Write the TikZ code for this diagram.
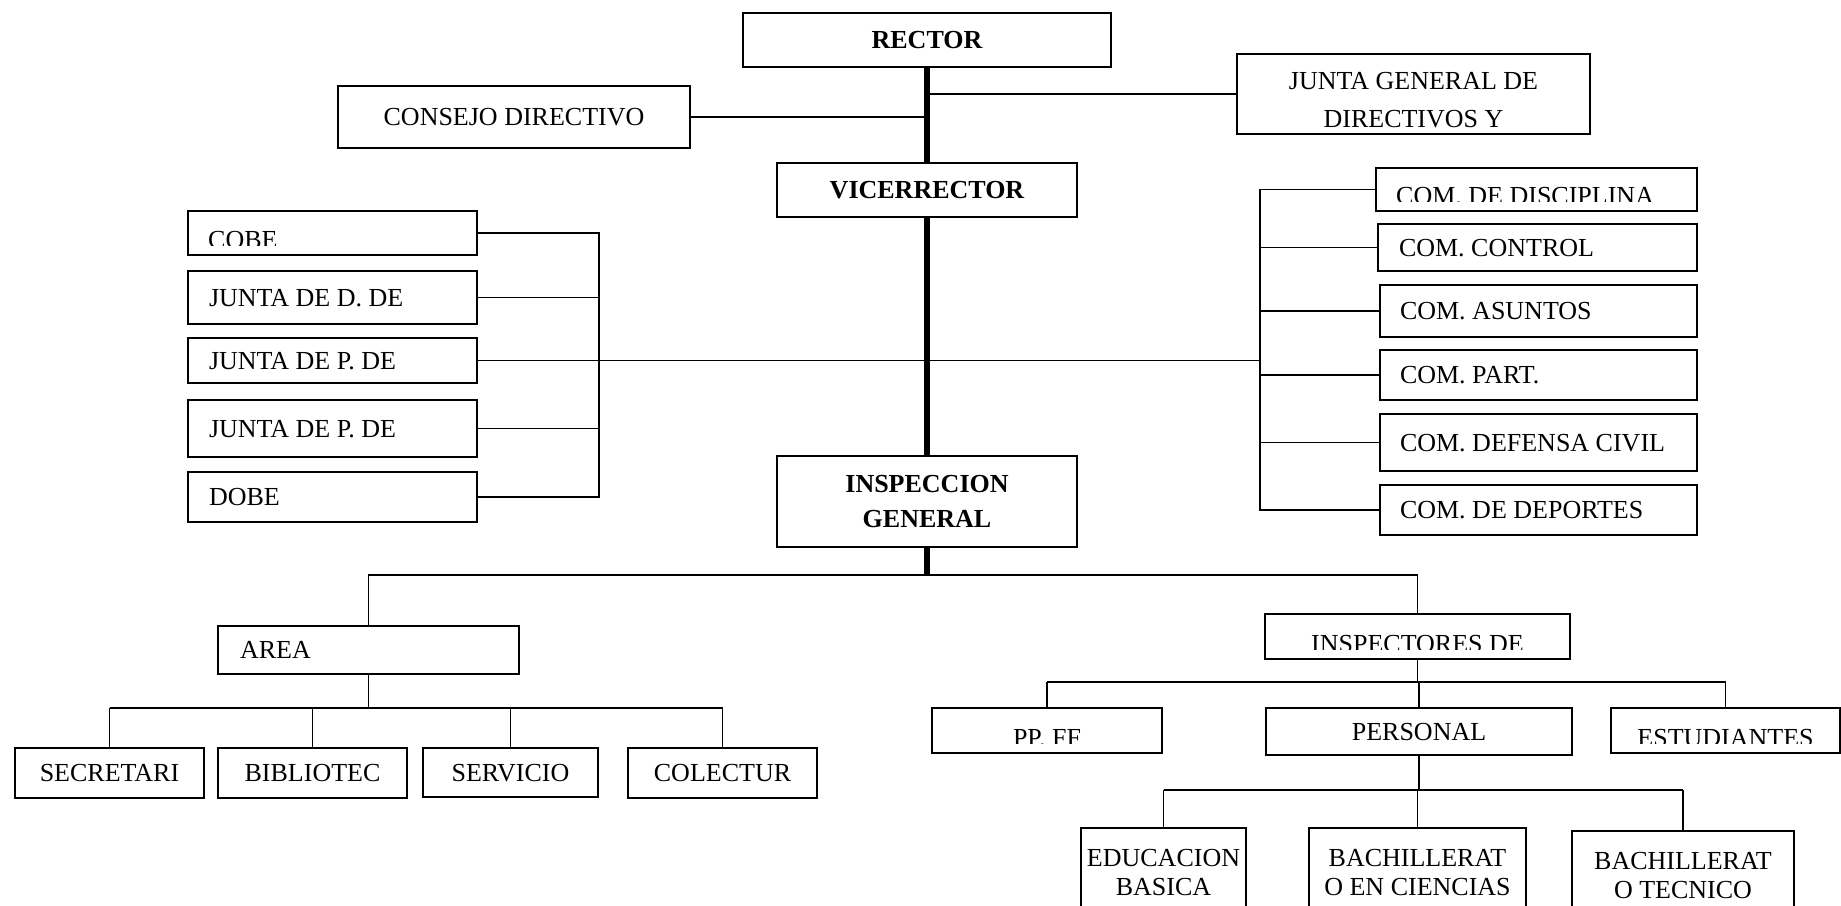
\documentclass[tikz,border=0pt]{standalone}
\usepackage{fontspec}
\setmainfont{Liberation Serif}
\usepackage{tikz}
\tikzset{
  box/.style={draw, line width=2pt, inner sep=0pt, text height=17.5pt, text depth=0pt},
  bold/.style={font=\fontsize{26}{35}\selectfont\bfseries},
  lbox/.style={align=flush left, text width=#1},
  two/.style={align=center, text height=, text depth=},
  tall/.style={two, font=\fontsize{26}{29}\selectfont},
  conn/.style={line width=1.9pt},
  spine/.style={line width=6.5pt}
}
\newcommand{\orgbox}[7][]{%
  \pgfmathsetmacro\boxw{#5-#3}\pgfmathsetmacro\boxh{#6-#4}%
  \node[box, minimum width=\boxw pt, minimum height=\boxh pt, #1] (#2) at ({(#3+#5)/2},{(#4+#6)/2}) {#7};}
\newcommand{\cuttext}[5]{%
  \begin{scope}
    \clip (#1.north west) rectangle ([yshift=11pt]#1.south east);
    \node[anchor=#2, inner sep=0pt] at ([xshift=#4, yshift=8pt]#1.#3) {#5};
  \end{scope}}

\begin{document}
\begin{tikzpicture}[x=1pt, y=-1pt, font=\fontsize{26}{35}\selectfont]
\useasboundingbox (0,0) rectangle (1841,905);
\fill[white] (0,0) rectangle (1841,905);
\clip (0,0) rectangle (1841,905);
% top of the chart
\orgbox[bold]{rector}{743}{13}{1111}{67}{RECTOR}
\orgbox{consejo}{338}{86}{690}{148}{CONSEJO DIRECTIVO}
\orgbox[two, font=\fontsize{26}{38}\selectfont, text height=66pt, text depth=0pt]{junta}{1237}{54}{1590}{134}{JUNTA GENERAL DE\\DIRECTIVOS Y}
\orgbox[bold]{vice}{777}{163}{1077}{217}{VICERRECTOR}
\orgbox[bold,two]{insp}{777}{456}{1077}{547}{INSPECCION\\GENERAL}
% left committees
\orgbox{cobe}{188}{211}{477}{255}{}
\orgbox[lbox=247pt]{jdd}{188}{271}{477}{324}{JUNTA DE D. DE}
\orgbox[lbox=247pt]{jpa}{188}{338}{477}{383}{JUNTA DE P. DE}
\orgbox[lbox=247pt]{jpb}{188}{400}{477}{457}{JUNTA DE P. DE}
\orgbox[lbox=247pt]{dobe}{188}{472}{477}{522}{DOBE}
\cuttext{cobe}{base west}{south west}{21pt}{COBE}
% right committees
\orgbox{disc}{1376}{168}{1697}{211}{}
\orgbox[lbox=277pt]{control}{1378}{224}{1697}{271}{COM. CONTROL}
\orgbox[lbox=277pt]{asuntos}{1380}{285}{1697}{337}{COM. ASUNTOS}
\orgbox[lbox=277pt]{part}{1380}{350}{1697}{400}{COM. PART.}
\orgbox[lbox=277pt]{defensa}{1380}{414}{1697}{471}{COM. DEFENSA CIVIL}
\orgbox[lbox=277pt]{deportes}{1380}{485}{1697}{535}{COM. DE DEPORTES}
\cuttext{disc}{base west}{south west}{21pt}{COM. DE DISCIPLINA}
% area branch
\orgbox[lbox=257pt]{area}{218}{626}{519}{674}{AREA}
\orgbox{secretari}{15}{748}{204}{798}{SECRETARI}
\orgbox{bibliotec}{218}{748}{407}{798}{BIBLIOTEC}
\orgbox{servicio}{423}{748}{598}{797}{SERVICIO}
\orgbox{colectur}{628}{748}{817}{798}{COLECTUR}
% inspectores branch
\orgbox{inspde}{1265}{614}{1570}{659}{}
\orgbox{ppff}{932}{708}{1162}{753}{}
\orgbox{personal}{1266}{708}{1572}{755}{PERSONAL}
\orgbox{estud}{1611}{708}{1840}{753}{}
\cuttext{inspde}{base}{south}{0pt}{INSPECTORES DE}
\cuttext{ppff}{base}{south}{0pt}{PP. FF}
\cuttext{estud}{base}{south}{0pt}{ESTUDIANTES}
\orgbox[tall]{educ}{1081}{828}{1246}{918}{EDUCACION\\BASICA}
\orgbox[tall]{bachc}{1309}{828}{1526}{918}{BACHILLERAT\\O EN CIENCIAS}
\orgbox[tall]{bacht}{1572}{831}{1794}{921}{BACHILLERAT\\O TECNICO}
% spine
\coordinate (ibus) at (927,575);
\draw[spine] (rector) -- (vice);
\draw[spine] (vice) -- (insp);
\draw[spine] (insp) -- (insp.south |- ibus);
\draw[conn] (junta.west) -- (junta.west -| rector.south);
\draw[conn] (consejo.east) -- (consejo.east -| rector.south);
% brackets
\coordinate (lbus) at (599,0);
\coordinate (rbus) at (1260,0);
\draw[conn] (cobe.east) -- (cobe.east -| lbus) -- (dobe.east -| lbus) -- (dobe.east);
\foreach \n in {jdd,jpb}
  \draw[conn] (\n.east) -- (\n.east -| lbus);
\draw[conn] (disc.west) -- (disc.west -| rbus) -- (deportes.west -| rbus) -- (deportes.west);
\foreach \n in {control,asuntos,part,defensa}
  \draw[conn] (\n.west) -- (\n.west -| rbus);
\draw[conn] (jpa.east) -- (jpa.east -| rbus);
% lower buses
\draw[conn] (area.north) -- (area.north |- ibus) -- (inspde.north |- ibus) -- (inspde.north);
\coordinate (abus) at (0,708);
\draw[conn] (area.south) -- (area.south |- abus);
\draw[conn] (secretari.north |- abus) -- (colectur.north |- abus);
\foreach \n in {secretari,bibliotec,servicio,colectur}
  \draw[conn] (\n.north) -- (\n.north |- abus);
\coordinate (pbus) at (0,682);
\draw[conn] (inspde.south) -- (inspde.south |- pbus);
\draw[conn] (ppff.north |- pbus) -- (estud.north |- pbus);
\foreach \n in {ppff,personal,estud}
  \draw[conn] (\n.north) -- (\n.north |- pbus);
\coordinate (ebus) at (0,790);
\draw[conn] (personal.south) -- (personal.south |- ebus);
\draw[conn] (educ.north |- ebus) -- (bacht.north |- ebus);
\foreach \n in {educ,bachc,bacht}
  \draw[conn] (\n.north) -- (\n.north |- ebus);
\end{tikzpicture}
\end{document}
